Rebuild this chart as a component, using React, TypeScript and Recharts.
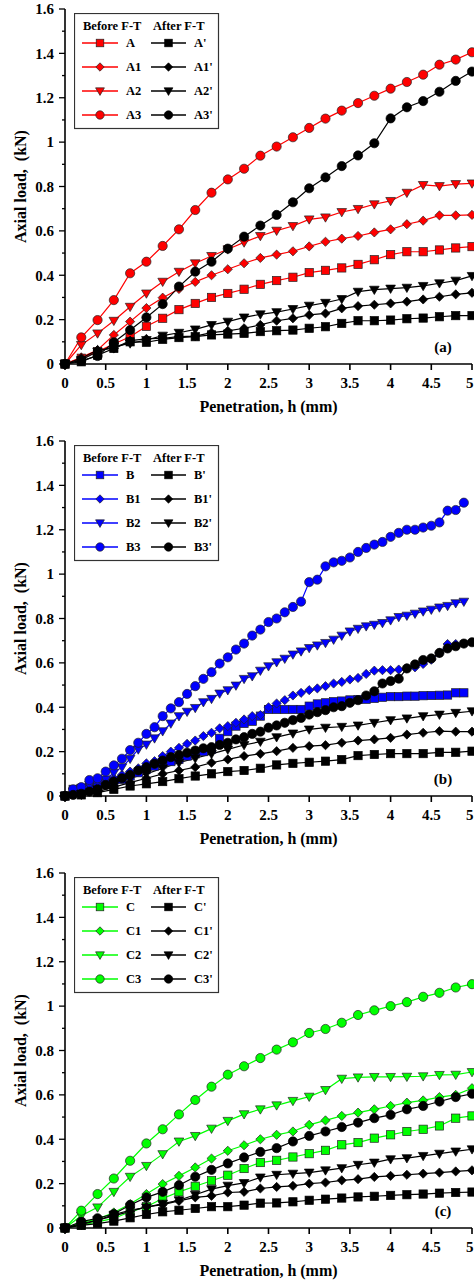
import React from "react";
import { LineChart, Line, XAxis, YAxis, Legend } from "recharts";

// penetration steps (mm)
const H02 = [0, 0.2, 0.4, 0.6, 0.8, 1, 1.2, 1.4, 1.6, 1.8, 2, 2.2, 2.4, 2.6, 2.8, 3, 3.2, 3.4, 3.6, 3.8, 4, 4.2, 4.4, 4.6, 4.8, 5];
const H01 = [
  0, 0.1, 0.2, 0.3, 0.4, 0.5, 0.6, 0.7, 0.8, 0.9, 1, 1.1, 1.2, 1.3, 1.4, 1.5, 1.6, 1.7, 1.8, 1.9,
  2, 2.1, 2.2, 2.3, 2.4, 2.5, 2.6, 2.7, 2.8, 2.9, 3, 3.1, 3.2, 3.3, 3.4, 3.5, 3.6, 3.7, 3.8, 3.9,
  4, 4.1, 4.2, 4.3, 4.4, 4.5, 4.6, 4.7, 4.8, 4.9, 5,
];

const X_TICKS = [0, 0.5, 1, 1.5, 2, 2.5, 3, 3.5, 4, 4.5, 5];
const Y_TICKS = [0, 0.1, 0.2, 0.3, 0.4, 0.5, 0.6, 0.7, 0.8, 0.9, 1, 1.1, 1.2, 1.3, 1.4, 1.5, 1.6];

// (a) axial load, kN
const A = [0, 0.026, 0.056, 0.09, 0.123, 0.17, 0.206, 0.245, 0.273, 0.3, 0.318, 0.337, 0.359, 0.376, 0.391, 0.412, 0.422, 0.433, 0.449, 0.47, 0.493, 0.506, 0.506, 0.514, 0.523, 0.529];
const A1 = [0, 0.03, 0.063, 0.131, 0.191, 0.252, 0.299, 0.338, 0.37, 0.4, 0.427, 0.454, 0.478, 0.493, 0.508, 0.53, 0.551, 0.565, 0.577, 0.593, 0.607, 0.63, 0.646, 0.67, 0.67, 0.672];
const A2 = [0, 0.086, 0.138, 0.195, 0.258, 0.318, 0.371, 0.416, 0.454, 0.487, 0.517, 0.548, 0.577, 0.601, 0.622, 0.652, 0.661, 0.685, 0.699, 0.72, 0.735, 0.772, 0.807, 0.802, 0.811, 0.814];
const A3 = [0, 0.12, 0.198, 0.288, 0.409, 0.461, 0.532, 0.607, 0.694, 0.772, 0.832, 0.88, 0.939, 0.98, 1.022, 1.064, 1.106, 1.142, 1.176, 1.209, 1.241, 1.271, 1.304, 1.349, 1.372, 1.405];
const A_ = [0, 0.01, 0.04, 0.07, 0.1, 0.098, 0.111, 0.119, 0.123, 0.131, 0.135, 0.138, 0.146, 0.15, 0.153, 0.161, 0.168, 0.183, 0.195, 0.195, 0.198, 0.204, 0.207, 0.213, 0.218, 0.218];
const A1_ = [0, 0.026, 0.063, 0.07, 0.105, 0.113, 0.116, 0.123, 0.126, 0.141, 0.149, 0.161, 0.176, 0.195, 0.206, 0.221, 0.228, 0.251, 0.261, 0.267, 0.273, 0.281, 0.291, 0.303, 0.314, 0.321];
const A2_ = [0, 0.018, 0.056, 0.078, 0.093, 0.108, 0.128, 0.141, 0.156, 0.176, 0.191, 0.21, 0.224, 0.234, 0.248, 0.263, 0.276, 0.293, 0.326, 0.335, 0.34, 0.344, 0.352, 0.364, 0.376, 0.397];
const A3_ = [0, 0.015, 0.036, 0.098, 0.153, 0.21, 0.27, 0.349, 0.416, 0.461, 0.52, 0.574, 0.624, 0.672, 0.729, 0.792, 0.841, 0.892, 0.94, 0.995, 1.107, 1.157, 1.185, 1.227, 1.276, 1.318];

// (b)
const B = [
  0, 0.03, 0.035, 0.04, 0.05, 0.055, 0.065, 0.075, 0.09, 0.105, 0.12, 0.135, 0.145, 0.155, 0.165, 0.18, 0.19, 0.2, 0.21, 0.26,
  0.29, 0.315, 0.327, 0.337, 0.36, 0.39, 0.39, 0.39, 0.39, 0.39, 0.405, 0.415, 0.42, 0.425, 0.428, 0.433, 0.435, 0.436, 0.44, 0.445,
  0.448, 0.448, 0.45, 0.45, 0.452, 0.453, 0.454, 0.455, 0.465, 0.465,
];
const B1 = [
  0, 0.015, 0.03, 0.04, 0.05, 0.065, 0.08, 0.095, 0.11, 0.125, 0.147, 0.157, 0.18, 0.2, 0.217, 0.235, 0.25, 0.27, 0.285, 0.305,
  0.315, 0.33, 0.345, 0.36, 0.365, 0.4, 0.417, 0.432, 0.453, 0.465, 0.477, 0.485, 0.495, 0.507, 0.514, 0.525, 0.532, 0.55, 0.565, 0.567,
  0.567, 0.57, 0.575, 0.58, 0.595, 0.614, 0.645, 0.685, 0.685,
];
const B2 = [
  0, 0.02, 0.035, 0.05, 0.065, 0.075, 0.105, 0.13, 0.168, 0.21, 0.232, 0.26, 0.292, 0.327, 0.36, 0.38, 0.397, 0.423, 0.438, 0.462,
  0.477, 0.498, 0.528, 0.54, 0.565, 0.585, 0.603, 0.619, 0.638, 0.652, 0.667, 0.679, 0.69, 0.705, 0.723, 0.742, 0.754, 0.765, 0.772, 0.78,
  0.792, 0.807, 0.813, 0.822, 0.832, 0.84, 0.85, 0.857, 0.869, 0.876,
];
const B3 = [
  0, 0.03, 0.04, 0.072, 0.08, 0.11, 0.138, 0.168, 0.207, 0.24, 0.28, 0.31, 0.36, 0.395, 0.423, 0.46, 0.495, 0.528, 0.558, 0.597,
  0.625, 0.66, 0.687, 0.723, 0.75, 0.784, 0.8, 0.828, 0.852, 0.876, 0.964, 0.975, 1.035, 1.053, 1.06, 1.075, 1.1, 1.118, 1.133, 1.145,
  1.168, 1.186, 1.2, 1.2, 1.21, 1.218, 1.233, 1.286, 1.289, 1.322,
];
const B_ = [0, 0.005, 0.015, 0.03, 0.045, 0.055, 0.065, 0.078, 0.09, 0.1, 0.11, 0.115, 0.125, 0.14, 0.147, 0.152, 0.157, 0.164, 0.182, 0.187, 0.191, 0.191, 0.191, 0.197, 0.197, 0.202];
const B1_ = [0, 0.005, 0.02, 0.04, 0.06, 0.08, 0.1, 0.115, 0.13, 0.15, 0.165, 0.18, 0.19, 0.202, 0.217, 0.225, 0.229, 0.24, 0.25, 0.255, 0.262, 0.277, 0.285, 0.292, 0.29, 0.29];
const B2_ = [0, 0.01, 0.03, 0.055, 0.08, 0.1, 0.125, 0.15, 0.17, 0.19, 0.21, 0.23, 0.245, 0.265, 0.282, 0.3, 0.308, 0.312, 0.318, 0.33, 0.342, 0.35, 0.36, 0.367, 0.375, 0.382];
const B3_ = [
  0, 0.005, 0.01, 0.02, 0.03, 0.05, 0.065, 0.08, 0.095, 0.115, 0.13, 0.145, 0.16, 0.175, 0.185, 0.195, 0.205, 0.215, 0.22, 0.23,
  0.24, 0.255, 0.265, 0.28, 0.29, 0.308, 0.318, 0.33, 0.342, 0.352, 0.367, 0.378, 0.387, 0.4, 0.405, 0.42, 0.432, 0.453, 0.472, 0.507,
  0.518, 0.529, 0.575, 0.593, 0.613, 0.62, 0.645, 0.665, 0.675, 0.687, 0.693,
];

// (c)
const C = [0, 0.013, 0.028, 0.043, 0.073, 0.096, 0.133, 0.163, 0.188, 0.213, 0.238, 0.268, 0.295, 0.305, 0.32, 0.335, 0.35, 0.375, 0.385, 0.405, 0.42, 0.435, 0.445, 0.46, 0.495, 0.505];
const C1 = [0, 0.025, 0.04, 0.07, 0.108, 0.153, 0.198, 0.235, 0.273, 0.313, 0.348, 0.373, 0.4, 0.42, 0.435, 0.465, 0.485, 0.505, 0.52, 0.535, 0.55, 0.565, 0.575, 0.59, 0.6, 0.63];
const C2 = [0, 0.055, 0.093, 0.163, 0.231, 0.28, 0.333, 0.39, 0.415, 0.448, 0.483, 0.513, 0.535, 0.553, 0.573, 0.592, 0.622, 0.673, 0.679, 0.681, 0.681, 0.682, 0.684, 0.69, 0.691, 0.703];
const C3 = [0, 0.078, 0.153, 0.223, 0.303, 0.381, 0.445, 0.512, 0.577, 0.637, 0.691, 0.729, 0.766, 0.804, 0.837, 0.879, 0.897, 0.925, 0.96, 0.981, 1.0, 1.018, 1.042, 1.06, 1.084, 1.099];
const C_ = [0, 0.012, 0.02, 0.031, 0.046, 0.061, 0.073, 0.08, 0.088, 0.096, 0.096, 0.103, 0.112, 0.113, 0.118, 0.125, 0.13, 0.135, 0.14, 0.143, 0.147, 0.15, 0.153, 0.157, 0.16, 0.162];
const C1_ = [0, 0.015, 0.035, 0.055, 0.075, 0.095, 0.105, 0.122, 0.138, 0.145, 0.16, 0.163, 0.178, 0.185, 0.19, 0.2, 0.205, 0.215, 0.22, 0.23, 0.235, 0.24, 0.245, 0.25, 0.255, 0.26];
const C2_ = [0, 0.02, 0.035, 0.06, 0.08, 0.093, 0.11, 0.125, 0.15, 0.175, 0.191, 0.203, 0.228, 0.24, 0.245, 0.25, 0.26, 0.27, 0.285, 0.295, 0.31, 0.315, 0.325, 0.335, 0.345, 0.355];
const C3_ = [0, 0.029, 0.044, 0.063, 0.104, 0.138, 0.163, 0.193, 0.231, 0.262, 0.291, 0.318, 0.343, 0.36, 0.39, 0.415, 0.435, 0.455, 0.475, 0.495, 0.51, 0.535, 0.55, 0.57, 0.59, 0.605];

const FONT = "'Liberation Serif', 'Times New Roman', serif";
const RED = "#ff0000";
const BLUE = "#0000ff";
const GREEN = "#00ff00";
const BLACK = "#000000";
const AXIS_W = 1.6;
const CHART_W = 474;

type Shape = "square" | "diamond" | "tri" | "circle";
const SHAPES: Shape[] = ["square", "diamond", "tri", "circle"];

interface Series {
  name: string;
  h: number[];
  v: number[];
  color: string;
  shape: Shape;
}

function group(color: string, names: string[], hs: number[][], vs: number[][]): Series[] {
  return names.map((name, i) => ({ name, h: hs[i], v: vs[i], color, shape: SHAPES[i] }));
}

const PANELS = [
  {
    tag: "(a)",
    before: group(RED, ["A", "A1", "A2", "A3"], [H02, H02, H02, H02], [A, A1, A2, A3]),
    after: group(BLACK, ["A'", "A1'", "A2'", "A3'"], [H02, H02, H02, H02], [A_, A1_, A2_, A3_]),
  },
  {
    tag: "(b)",
    before: group(BLUE, ["B", "B1", "B2", "B3"], [H01, H01, H01, H01], [B, B1, B2, B3]),
    after: group(BLACK, ["B'", "B1'", "B2'", "B3'"], [H02, H02, H02, H01], [B_, B1_, B2_, B3_]),
  },
  {
    tag: "(c)",
    before: group(GREEN, ["C", "C1", "C2", "C3"], [H02, H02, H02, H02], [C, C1, C2, C3]),
    after: group(BLACK, ["C'", "C1'", "C2'", "C3'"], [H02, H02, H02, H02], [C_, C1_, C2_, C3_]),
  },
];

const toPoints = (s: Series) => s.v.map((v, i) => ({ h: s.h[i], v }));

function Marker({ shape, cx, cy, fill, s }: { shape: Shape; cx: number; cy: number; fill: string; s: number }) {
  const stroke = fill === BLACK ? BLACK : "#222";
  const sw = 0.7;
  if (shape === "square")
    return <rect x={cx - s * 0.9} y={cy - s * 0.9} width={s * 1.8} height={s * 1.8} fill={fill} stroke={stroke} strokeWidth={sw} />;
  if (shape === "diamond")
    return (
      <polygon
        points={`${cx},${cy - s} ${cx + s},${cy} ${cx},${cy + s} ${cx - s},${cy}`}
        fill={fill}
        stroke={stroke}
        strokeWidth={sw}
      />
    );
  if (shape === "tri")
    return (
      <polygon
        points={`${cx - s * 1.05},${cy - s * 0.75} ${cx + s * 1.05},${cy - s * 0.75} ${cx},${cy + s * 1.05}`}
        fill={fill}
        stroke={stroke}
        strokeWidth={sw}
      />
    );
  return <circle cx={cx} cy={cy} r={s} fill={fill} stroke={stroke} strokeWidth={sw} />;
}

const fmt = (v: number) => String(+v.toFixed(1));

const YTick = (props: any) => {
  const { x, y, payload } = props;
  const ax = x + 10; // tickSize + tickMargin
  const major = Math.round(payload.value * 10) % 2 === 0;
  return (
    <g>
      <line x1={ax - (major ? 6 : 3)} x2={ax} y1={y} y2={y} stroke="#000" strokeWidth={1.3} />
      {major && (
        <text x={x - 1} y={y} dy="0.35em" textAnchor="end" fontFamily={FONT} fontSize={15} fontWeight="bold" fill="#000">
          {fmt(payload.value)}
        </text>
      )}
    </g>
  );
};

// the last label sits on the right edge, keep it inside the picture
const XTick = (props: any) => {
  const { x, y, payload } = props;
  const tooFar = x + 4 > CHART_W;
  return (
    <text
      x={tooFar ? CHART_W - 0.5 : x}
      y={y}
      dy="0.71em"
      textAnchor={tooFar ? "end" : "middle"}
      fontFamily={FONT}
      fontSize={15}
      fontWeight="bold"
      fill="#000"
    >
      {String(payload.value)}
    </text>
  );
};

const YTitle = (props: any) => {
  const vb = props.viewBox || { x: 0, y: 9, height: 355 };
  const cx = vb.x + 20;
  const cy = vb.y + vb.height / 2;
  return (
    <text
      x={cx}
      y={cy}
      transform={`rotate(-90 ${cx} ${cy})`}
      textAnchor="middle"
      dominantBaseline="central"
      fontFamily={FONT}
      fontSize={16}
      fontWeight="bold"
      fill="#000"
      style={{ whiteSpace: "pre" }}
    >
      {"Axial load,  (kN)"}
    </text>
  );
};

const XTitle = (props: any) => {
  const vb = props.viewBox || { x: 65, y: 364, width: 407 };
  return (
    <g>
      <text x={vb.x + vb.width / 2} y={vb.y + 48} textAnchor="middle" fontFamily={FONT} fontSize={16} fontWeight="bold" fill="#000">
        Penetration, h (mm)
      </text>
      <text x={vb.x + vb.width - 29} y={vb.y - 12} textAnchor="middle" fontFamily={FONT} fontSize={15} fontWeight="bold" fill="#000">
        {props.tag}
      </text>
    </g>
  );
};

function LegendBox({ before, after }: { before: Series[]; after: Series[] }) {
  const rows = [30, 54, 78, 102];
  const txt = { fontFamily: FONT, fontSize: 12.5, fontWeight: "bold" as const, fill: "#000" };
  return (
    <svg width={146} height={117} style={{ display: "block" }}>
      <rect x={0.5} y={0.5} width={144} height={115} fill="#fff" stroke="#333" strokeWidth={1.2} />
      <text x={9} y={17} {...txt}>Before F-T</text>
      <text x={79} y={17} {...txt}>After F-T</text>
      {rows.map((ry, i) => (
        <g key={i}>
          <line x1={8} x2={44} y1={ry} y2={ry} stroke={before[i].color} strokeWidth={1.3} />
          <Marker shape={before[i].shape} cx={26} cy={ry} fill={before[i].color} s={4.2} />
          <text x={52} y={ry} dy="0.35em" {...txt}>{before[i].name}</text>
          <line x1={77} x2={112} y1={ry} y2={ry} stroke={after[i].color} strokeWidth={1.3} />
          <Marker shape={after[i].shape} cx={94.5} cy={ry} fill={after[i].color} s={4.2} />
          <text x={120} y={ry} dy="0.35em" {...txt}>{after[i].name}</text>
        </g>
      ))}
    </svg>
  );
}

function Panel({ tag, before, after }: { tag: string; before: Series[]; after: Series[] }) {
  const all = [...before, ...after];
  return (
    <LineChart width={CHART_W} height={432} margin={{ top: 9, right: 2, bottom: 0, left: 0 }}>
      <XAxis
        dataKey="h"
        type="number"
        domain={[0, 5]}
        ticks={X_TICKS}
        interval={0}
        height={68}
        stroke="#000"
        strokeWidth={AXIS_W}
        tickSize={6}
        tickMargin={7}
        tick={<XTick />}
        label={<XTitle tag={tag} />}
      />
      <XAxis xAxisId="top" orientation="top" type="number" domain={[0, 5]} height={0} tick={false} tickLine={false} stroke="#000" strokeWidth={AXIS_W} />
      <YAxis
        type="number"
        domain={[0, 1.6]}
        ticks={Y_TICKS}
        interval={0}
        width={65}
        tickSize={5}
        tickMargin={5}
        tickLine={false}
        tick={<YTick />}
        axisLine={{ stroke: "#000", strokeWidth: AXIS_W }}
        label={<YTitle />}
      />
      <YAxis yAxisId="right" orientation="right" type="number" domain={[0, 1.6]} width={0} tick={false} tickLine={false} stroke="#000" strokeWidth={AXIS_W} />
      <Legend
        layout="horizontal"
        verticalAlign="middle"
        align="center"
        wrapperStyle={{ left: 74, top: 13, width: 146, height: 117 }}
        content={() => <LegendBox before={before} after={after} />}
      />
      {all.map((s) => (
        <Line
          key={s.name}
          data={toPoints(s)}
          dataKey="v"
          name={s.name}
          type="linear"
          stroke={s.color}
          strokeWidth={1.2}
          isAnimationActive={false}
          activeDot={false}
          legendType="none"
          dot={(p: any) => <Marker key={`${s.name}-${p.index}`} shape={s.shape} cx={p.cx} cy={p.cy} fill={s.color} s={4.6} />}
        />
      ))}
    </LineChart>
  );
}

export default function App() {
  return (
    <div style={{ position: "absolute", left: 0, top: 0, width: CHART_W, height: 1283, background: "#fff" }}>
      {PANELS.map((p) => (
        <Panel key={p.tag} tag={p.tag} before={p.before} after={p.after} />
      ))}
    </div>
  );
}
